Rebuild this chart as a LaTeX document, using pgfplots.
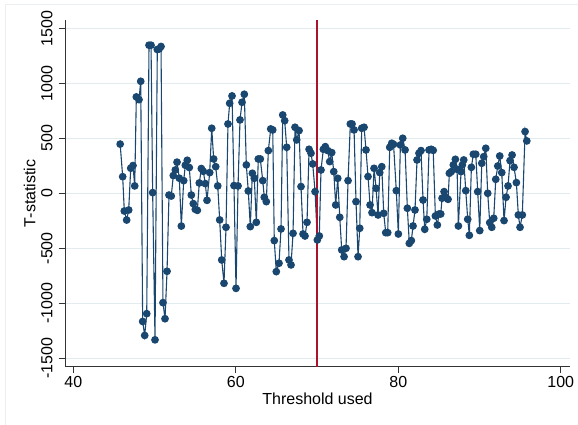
\documentclass[border=0pt]{standalone}
\usepackage{fontspec}
\setmainfont{Liberation Sans}
\usepackage{pgfplots}
\pgfplotsset{compat=1.18}
\usepackage{pgfplotstable}
\definecolor{stnavy}{RGB}{26,71,111}
\definecolor{gridc}{RGB}{226,236,239}
\definecolor{framec}{RGB}{236,239,241}

\pgfplotstableread{
x y
45.77 447
46.08 151
46.28 -161
46.57 -243
46.82 -152
47.07 228
47.35 252
47.56 67
47.76 876
48.09 851
48.30 1018
48.54 -1165
48.79 -1292
49.04 -1094
49.32 1346
49.57 1346
49.77 6
50.06 -1332
50.34 1307
50.57 1312
50.80 1334
51.04 -994
51.29 -1140
51.54 -709
51.78 -16
52.06 -25
52.31 161
52.56 212
52.77 283
53.05 137
53.30 -298
53.59 115
53.79 255
54.03 300
54.28 234
54.53 -16
54.77 -94
55.02 -146
55.27 -155
55.51 94
55.76 225
56.00 200
56.25 88
56.46 -64
56.79 188
57.04 591
57.28 312
57.53 242
57.78 67
58.02 -242
58.27 -606
58.55 -818
58.80 -309
59.04 630
59.25 818
59.54 885
59.78 70
60.03 -864
60.28 67
60.52 667
60.77 827
61.05 900
61.30 258
61.54 21
61.79 -303
62.04 182
62.28 136
62.53 -264
62.77 312
63.02 312
63.32 115
63.51 -36
63.76 -76
64.01 388
64.30 585
64.55 576
64.74 -430
64.99 -712
65.32 -636
65.57 -324
65.78 712
66.02 660
66.27 418
66.55 -606
66.80 -651
67.05 -364
67.29 600
67.50 485
67.79 570
68.03 61
68.28 -370
68.52 -388
68.77 -264
69.02 400
69.26 364
69.47 267
69.76 15
70.04 -424
70.28 -388
70.49 212
70.78 400
71.02 424
71.32 388
71.56 288
71.81 370
72.06 197
72.30 -106
72.55 136
72.80 -218
73.04 -515
73.33 -576
73.57 -500
73.82 115
74.10 630
74.31 630
74.56 576
74.80 -76
75.05 -576
75.26 -318
75.50 591
75.79 600
76.03 394
76.28 152
76.53 -106
76.77 -176
77.02 227
77.27 45
77.51 -197
77.72 188
77.97 242
78.21 -182
78.46 -358
78.70 -358
78.95 418
79.20 455
79.42 445
79.76 24
80.01 -370
80.26 439
80.55 500
80.84 394
81.12 -136
81.36 -455
81.61 -430
81.82 -297
82.06 -152
82.31 303
82.55 364
82.80 388
83.05 -61
83.26 -327
83.51 -236
83.79 394
84.05 400
84.30 390
84.57 -206
84.81 -288
85.02 -188
85.23 -188
85.39 -45
85.64 15
85.88 -36
86.13 -55
86.29 182
86.53 197
86.78 258
87.03 309
87.24 218
87.40 -297
87.73 197
87.89 258
88.06 303
88.31 24
88.55 -236
88.75 -382
89.00 236
89.24 355
89.54 355
89.78 15
90.03 -339
90.28 273
90.52 333
90.77 409
91.01 0
91.26 -267
91.51 -309
91.75 -227
92.00 127
92.25 248
92.49 339
92.74 188
93.02 -248
93.27 -36
93.51 67
93.76 297
94.01 348
94.25 236
94.54 97
94.78 -197
94.99 -309
95.27 -197
95.61 561
95.82 476
}\tstat

\begin{document}
\begin{tikzpicture}[x=1pt,y=1pt]
\useasboundingbox (0,0) rectangle (578,425);
\draw[framec, line width=0.8pt] (5,0) -- (5,420.5) -- (578,420.5);
\begin{axis}[
  at={(65pt,58.3pt)}, anchor=south west,
  scale only axis, width=505pt, height=346.7pt,
  xmin=38.98, xmax=101.14, ymin=-1576, ymax=1575,
  axis lines*=left,
  axis line style={black!80, line width=0.8pt},
  xtick={40,60,80,100},
  ytick={-1500,-1000,-500,0,500,1000,1500},
  minor tick num=0,
  tick align=outside,
  major tick length=6.5pt,
  tick style={black!80, line width=0.8pt},
  ymajorgrids,
  grid style={gridc, line width=0.9pt},
  /pgf/number format/assume math mode=true,
  /pgf/number format/set thousands separator={},
  tick label style={font=\fontsize{16}{19}\selectfont},
  yticklabel style={xshift=-6.2pt, rotate=90, anchor=base, inner sep=0pt},
  xticklabel style={anchor=north, inner sep=0pt, yshift=-2.8pt},
  every axis x label/.style={at={(axis description cs:0.5,0)}, anchor=base, inner sep=0pt, yshift=-38.3pt, font=\fontsize{16}{19}\selectfont},
  every axis y label/.style={at={(axis description cs:0,0.5)}, xshift=-29.5pt, rotate=90, anchor=base, inner sep=0pt, font=\fontsize{16}{19}\selectfont},
  xlabel={Threshold used},
  ylabel={T-statistic},
]
\addplot[color=stnavy, line width=1.1pt, mark=*, mark size=3.3pt, mark options={fill=stnavy, draw=stnavy, solid}] table[x=x,y=y]{\tstat};
\addplot[draw={rgb,255:red,168;green,20;blue,46}, line width=1.12pt, mark=none, solid, forget plot] coordinates {(70,-1576) (70,1575)};
\end{axis}
\end{tikzpicture}
\end{document}
